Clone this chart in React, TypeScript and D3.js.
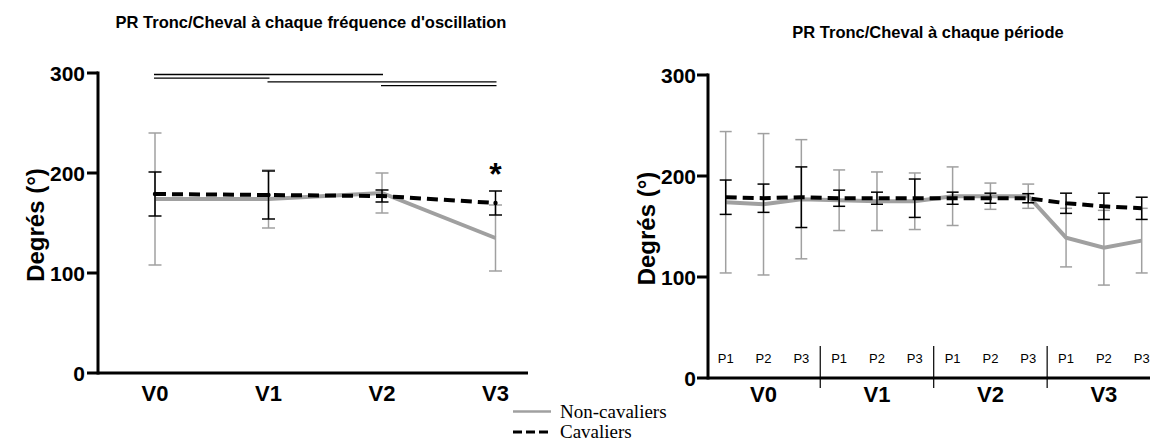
import React from "react";
import * as d3 from "d3";

const visits = ["V0", "V1", "V2", "V3"];
const periods = ["P1", "P2", "P3"];
const yTicks = [0, 100, 200, 300];

// Left chart: per visit
const nonCavMean = [174, 174, 180, 135];
const nonCavSd = [66, 29, 20, 33];
const cavMean = [179, 178, 177, 170];
const cavSd = [22, 24, 6, 12];

// significance bars (from index, to index)
const sigFrom = [0, 0, 1, 2];
const sigTo = [2, 1, 3, 3];

// Right chart: per visit x period
const nonCavMeanP = [174, 172, 177, 176, 175, 175, 180, 180, 180, 139, 129, 136];
const nonCavSdP = [70, 70, 59, 30, 29, 28, 29, 13, 12, 29, 37, 32];
const cavMeanP = [179, 178, 179, 178, 178, 178, 178, 178, 178, 173, 170, 168];
const cavSdP = [17, 14, 30, 8, 6, 19, 6, 5, 4.5, 10, 13, 11];

const SANS = "'Liberation Sans', Arial, sans-serif";
const SERIF = "'Liberation Serif', 'Times New Roman', serif";
const GRAY = "#a0a0a0";

function ErrorBars({ xs, means, sds, y, color, cap }: any) {
  return (
    <g stroke={color} strokeWidth={1.5} fill="none">
      {means.map((m: number, i: number) => {
        const x = xs[i];
        const y1 = y(m + sds[i]);
        const y2 = y(m - sds[i]);
        return (
          <g key={i}>
            <line x1={x} x2={x} y1={y1} y2={y2} />
            <line x1={x - cap} x2={x + cap} y1={y1} y2={y1} />
            <line x1={x - cap} x2={x + cap} y1={y2} y2={y2} />
          </g>
        );
      })}
    </g>
  );
}

export default function App() {
  // Left chart scales
  const yL = d3.scaleLinear().domain([0, 300]).range([373, 73]);
  const xL = d3.scalePoint<string>().domain(visits).range([155, 495.5]);
  const xsL = visits.map((v) => xL(v) as number);
  const line = (xs: number[], y: any) =>
    d3.line<number>().x((_, i) => xs[i]).y((d) => y(d));

  // Right chart scales
  const yR = d3.scaleLinear().domain([0, 300]).range([378, 75]);
  const nP = nonCavMeanP.length;
  const xR = d3.scaleLinear().domain([0, nP - 1]).range([725.7, 1141.7]);
  const xsR = d3.range(nP).map((i) => xR(i));

  return (
    <svg
      width={1150}
      height={444}
      style={{ position: "absolute", left: 0, top: 0, background: "#fff" }}
    >
      <rect width={1150} height={444} fill="#fff" />
      {/* ===== Left chart ===== */}
      <text x={311} y={28} textAnchor="middle" fontFamily={SANS} fontWeight="bold" fontSize={16.5}>
        PR Tronc/Cheval à chaque fréquence d'oscillation
      </text>
      <text
        transform={`translate(44,${yL(150) + 2}) rotate(-90)`}
        textAnchor="middle"
        fontFamily={SANS}
        fontWeight="bold"
        fontSize={24}
      >
        Degrés (°)
      </text>
      {/* significance lines */}
      <g stroke="#000" strokeWidth={1.3}>
        {sigFrom.map((f, i) => (
          <line
            key={i}
            x1={xsL[f] - 1}
            x2={xsL[sigTo[i]] + 1}
            y1={74.5 + i * 3.7}
            y2={74.5 + i * 3.7}
          />
        ))}
      </g>
      {/* axes */}
      <g stroke="#000" strokeWidth={3}>
        <line x1={98} x2={98} y1={yL(300) - 1.5} y2={yL(0) + 1.5} />
        <line x1={98} x2={528} y1={yL(0)} y2={yL(0)} />
        {yTicks.map((t) => (
          <line key={t} x1={87} x2={98} y1={yL(t)} y2={yL(t)} />
        ))}
      </g>
      {yTicks.map((t) => (
        <text key={t} x={85} y={yL(t) + 7.5} textAnchor="end" fontFamily={SANS} fontWeight="bold" fontSize={21}>
          {t}
        </text>
      ))}
      {visits.map((v, i) => (
        <text key={v} x={xsL[i]} y={401} textAnchor="middle" fontFamily={SANS} fontWeight="bold" fontSize={22}>
          {v}
        </text>
      ))}
      {/* data */}
      <path d={line(xsL, yL)(nonCavMean) as string} fill="none" stroke={GRAY} strokeWidth={4} />
      <ErrorBars xs={xsL} means={nonCavMean} sds={nonCavSd} y={yL} color={GRAY} cap={6.5} />
      <ErrorBars xs={xsL} means={cavMean} sds={cavSd} y={yL} color="#000" cap={6.5} />
      <path
        d={line(xsL, yL)(cavMean) as string}
        fill="none"
        stroke="#000"
        strokeWidth={4}
        strokeDasharray="11,6"
      />
      {cavMean.map((m, i) => (
        <circle key={i} cx={xsL[i]} cy={yL(m)} r={2.2} fill="#000" />
      ))}
      <text x={xsL[3]} y={185} textAnchor="middle" fontFamily={SANS} fontWeight="bold" fontSize={32}>
        *
      </text>

      {/* legend */}
      <line x1={513} x2={551} y1={411.5} y2={411.5} stroke={GRAY} strokeWidth={2.5} />
      <text x={560} y={418} fontFamily={SERIF} fontSize={19}>
        Non-cavaliers
      </text>
      <line x1={513} x2={551} y1={432} y2={432} stroke="#000" strokeWidth={3} strokeDasharray="9,4" />
      <text x={560} y={438} fontFamily={SERIF} fontSize={19}>
        Cavaliers
      </text>

      {/* ===== Right chart ===== */}
      <text x={928} y={38} textAnchor="middle" fontFamily={SANS} fontWeight="bold" fontSize={16.5}>
        PR Tronc/Cheval à chaque période
      </text>
      <text
        transform={`translate(655,${yR(150) + 2}) rotate(-90)`}
        textAnchor="middle"
        fontFamily={SANS}
        fontWeight="bold"
        fontSize={24}
      >
        Degrés (°)
      </text>
      <g stroke="#000" strokeWidth={3}>
        <line x1={708} x2={708} y1={yR(300) - 1.5} y2={yR(0) + 1.5} />
        <line x1={708} x2={1150} y1={yR(0)} y2={yR(0)} />
        {yTicks.map((t) => (
          <line key={t} x1={697} x2={708} y1={yR(t)} y2={yR(t)} />
        ))}
      </g>
      {yTicks.map((t) => (
        <text key={t} x={696} y={yR(t) + 7.5} textAnchor="end" fontFamily={SANS} fontWeight="bold" fontSize={21}>
          {t}
        </text>
      ))}
      {/* group separators */}
      <g stroke="#000" strokeWidth={1.2}>
        {visits.slice(1).map((v, i) => {
          const x = xR((i + 1) * 3 - 0.5);
          return <line key={v} x1={x} x2={x} y1={346} y2={388} />;
        })}
      </g>
      {xsR.map((x, i) => (
        <text key={i} x={x} y={363} textAnchor="middle" fontFamily={SANS} fontSize={13}>
          {periods[i % 3]}
        </text>
      ))}
      {visits.map((v, g) => (
        <text key={v} x={xR(g * 3 + 1)} y={402} textAnchor="middle" fontFamily={SANS} fontWeight="bold" fontSize={22}>
          {v}
        </text>
      ))}
      <path d={line(xsR, yR)(nonCavMeanP) as string} fill="none" stroke={GRAY} strokeWidth={4} />
      <ErrorBars xs={xsR} means={nonCavMeanP} sds={nonCavSdP} y={yR} color={GRAY} cap={6} />
      <ErrorBars xs={xsR} means={cavMeanP} sds={cavSdP} y={yR} color="#000" cap={6} />
      <path
        d={line(xsR, yR)(cavMeanP) as string}
        fill="none"
        stroke="#000"
        strokeWidth={4}
        strokeDasharray="11,6"
      />
    </svg>
  );
}
